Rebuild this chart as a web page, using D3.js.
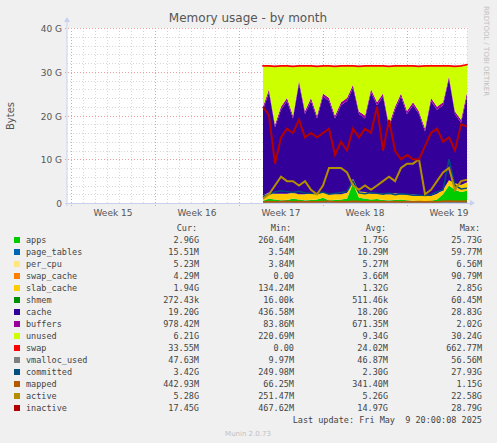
<!DOCTYPE html>
<html><head><meta charset="utf-8">
<script src="https://cdn.jsdelivr.net/npm/d3@7"></script>
<style>body{margin:0;background:#f0f0f0;}svg{display:block;}</style>
</head><body>
<svg id="chart" width="497" height="443"></svg>
<script>
// samples every half day, starting day 16 after the start of week 15
const startDay = 16, step = 0.5;
const apps = [0.5,1,0.8,0.6,0.7,1,0.8,0.6,0.7,0.8,1.2,0.6,0.7,0.8,1,4.5,1.2,1,0.8,0.9,0.7,0.6,0.7,0.8,0.6,0.5,0.5,0.4,0.5,0.8,2,4,3,2.5,2.8];
const pageTables = [0.01,0.01,0.01,0.01,0.01,0.01,0.01,0.01,0.01,0.01,0.01,0.01,0.01,0.01,0.01,0.01,0.01,0.01,0.01,0.01,0.01,0.01,0.01,0.01,0.01,0.01,0.01,0.01,0.01,0.01,0.01,0.01,0.01,0.01,0.015];
const perCpu = [0.005,0.005,0.005,0.005,0.005,0.005,0.005,0.005,0.005,0.005,0.005,0.005,0.005,0.005,0.005,0.005,0.005,0.005,0.005,0.005,0.005,0.005,0.005,0.005,0.005,0.005,0.005,0.005,0.005,0.005,0.005,0.005,0.005,0.005,0.005];
const swapCache = [0.004,0.004,0.004,0.004,0.004,0.004,0.004,0.004,0.004,0.004,0.004,0.004,0.004,0.004,0.004,0.004,0.004,0.004,0.004,0.004,0.004,0.004,0.004,0.004,0.004,0.004,0.004,0.004,0.004,0.004,0.004,0.004,0.004,0.004,0.004];
const slabCache = [1.2,1.4,1.3,1.5,1.4,1.3,1.2,1.4,1.5,1.3,1.2,1.4,1.3,1.2,1.3,1.0,1.4,1.5,1.3,1.2,1.4,1.3,1.5,1.2,1.3,1.4,1.3,1.2,1.1,1.3,1.0,1.2,1.5,1.6,1.9];
const shmem = [0.0005,0.0005,0.0005,0.0005,0.0005,0.0005,0.0005,0.0005,0.0005,0.0005,0.0005,0.0005,0.0005,0.0005,0.0005,0.0005,0.0005,0.0005,0.0005,0.0005,0.0005,0.0005,0.0005,0.0005,0.0005,0.0005,0.0005,0.0005,0.0005,0.0005,0.0005,0.0005,0.0005,0.0005,0.0003];
const cache = [19.6,22.9,15.2,19.2,21.2,17,25.3,18.3,21.1,17.2,21.9,21.3,17.3,20.3,21,20.8,17.7,16.8,23.2,20.2,22.2,15.4,19.1,22.3,18.4,20.4,18.5,14.7,21.7,19.2,19.3,23.1,15.8,14.2,19.6];
const buffers = [0.7,0.7,0.6,0.7,0.7,0.6,0.7,0.7,0.7,0.6,0.7,0.7,0.6,0.7,0.7,0.7,0.6,0.7,0.7,0.7,0.7,0.6,0.7,0.7,0.7,0.7,0.6,0.7,0.7,0.7,0.7,0.7,0.6,0.7,0.98];
const unused = [9.3,5.3,13.3,9.3,7.3,11.3,3.3,10.3,7.3,11.3,6.3,7.3,11.3,8.3,7.3,4.3,10.3,11.3,5.3,8.3,6.3,13.3,9.3,6.3,10.3,8.3,10.3,14.3,7.3,9.3,8.3,2.3,10.3,12.3,6.3];
const swap = [0.03,0.03,0.03,0.03,0.03,0.03,0.03,0.03,0.03,0.03,0.03,0.03,0.03,0.03,0.03,0.03,0.03,0.03,0.03,0.03,0.03,0.03,0.03,0.03,0.03,0.03,0.03,0.03,0.03,0.03,0.03,0.03,0.03,0.03,0.03];
const vmallocUsed = [0.047,0.047,0.047,0.047,0.047,0.047,0.047,0.047,0.047,0.047,0.047,0.047,0.047,0.047,0.047,0.047,0.047,0.047,0.047,0.047,0.047,0.047,0.047,0.047,0.047,0.047,0.047,0.047,0.047,0.047,0.047,0.047,0.047,0.047,0.047];
const committed = [1.5,2,2.5,2.8,2.6,2.4,2.7,2.3,2.2,2.1,2.5,2.0,2.2,2.4,2.6,5,2.3,2.1,2.4,2.2,2,2.3,1.9,2.1,2,1.8,1.8,1.7,1.9,2.5,3,10,4,3.2,3.4];
const mapped = [0.3,0.35,0.3,0.35,0.4,0.3,0.35,0.3,0.35,0.3,0.35,0.4,0.3,0.35,0.3,0.4,0.35,0.3,0.35,0.3,0.35,0.3,0.35,0.3,0.35,0.3,0.35,0.3,0.35,0.3,0.4,0.45,0.4,0.4,0.44];
const active = [1,2,4,6,5,5,4,5,3,2,4,8,8,8,7,4,3,4,3,4,5,6,5,8,9,9,10,2,3,5,7,8,3,5,5.3];
const inactive = [22,20,9,15,17,16,19,15,16,15,16,17,11,14,12,17,15,17,16,22,12,19,12,10,11,10,10,13,16,17,14,15,12,18,17.5];

const weekLabels = ["Week 15","Week 16","Week 17","Week 18","Week 19"];
const yTicks = [0,10,20,30,40];
const yTickLabels = ["0","10 G","20 G","30 G","40 G"];

const stackNames = ["apps","page_tables","per_cpu","swap_cache","slab_cache","shmem","cache","buffers","unused","swap"];
const stackData = [apps,pageTables,perCpu,swapCache,slabCache,shmem,cache,buffers,unused,swap];
const lineNames = ["vmalloc_used","committed","mapped","active","inactive"];
const lineData = [vmallocUsed,committed,mapped,active,inactive];
const colors = {apps:"#00cc00",page_tables:"#0066b3",per_cpu:"#ffe680",swap_cache:"#ff8000",slab_cache:"#ffcc00",shmem:"#008f00",cache:"#330099",buffers:"#990099",unused:"#ccff00",swap:"#ff0000",vmalloc_used:"#808080",committed:"#004d80",mapped:"#b35900",active:"#b38f00",inactive:"#b30000"};
const legendNames = ["apps","page_tables","per_cpu","swap_cache","slab_cache","shmem","cache","buffers","unused","swap","vmalloc_used","committed","mapped","active","inactive"];
const legendCur = ["2.96G","15.51M","5.23M","4.29M","1.94G","272.43k","19.20G","978.42M","6.21G","33.55M","47.63M","3.42G","442.93M","5.28G","17.45G"];
const legendMin = ["260.64M","3.54M","3.84M","0.00","134.24M","16.00k","436.58M","83.86M","220.69M","0.00","9.97M","249.98M","66.25M","251.47M","467.62M"];
const legendAvg = ["1.75G","10.29M","5.27M","3.66M","1.32G","511.46k","18.20G","671.35M","9.34G","24.02M","46.87M","2.30G","341.40M","5.26G","14.97G"];
const legendMax = ["25.73G","59.77M","6.56M","90.79M","2.85G","60.45M","28.83G","2.02G","30.24G","662.77M","56.56M","27.93G","1.15G","22.58G","28.79G"];

const svg = d3.select("#chart");
const L = 67, R = 467, T = 28, B = 203;
const x = d3.scaleLinear().domain([-1/3, 33]).range([L, R]);
const y = d3.scaleLinear().domain([0, 40]).range([B, T]);

svg.append("rect").attr("x", L).attr("y", T).attr("width", R - L).attr("height", B - T).attr("fill", "#fff");

// grid
const g = svg.append("g").attr("shape-rendering", "crispEdges");
d3.range(0, 33.01, 1).forEach(d => {
    const major = d % 7 === 0;
    g.append("line").attr("x1", Math.round(x(d)) + 0.5).attr("x2", Math.round(x(d)) + 0.5)
        .attr("y1", T).attr("y2", B + (major ? 3 : 0))
        .attr("stroke", major ? "#e8a0a0" : "#d8d8d8").attr("stroke-dasharray", "1,2");
});
d3.range(2, 40.1, 2).forEach(v => {
    const major = v % 10 === 0;
    g.append("line").attr("x1", L - (major ? 2 : 0)).attr("x2", R)
        .attr("y1", Math.round(y(v)) + 0.5).attr("y2", Math.round(y(v)) + 0.5)
        .attr("stroke", major ? "#e8a0a0" : "#d8d8d8").attr("stroke-dasharray", "1,2");
});

// stacked areas
const times = apps.map((d, i) => startDay + i * step);
const rows = times.map((t, i) => {
    const r = {t};
    stackNames.forEach((n, k) => r[n] = stackData[k][i]);
    return r;
});
const series = d3.stack().keys(stackNames)(rows);
const area = d3.area().x(d => x(d.data.t)).y0(d => y(d[0])).y1(d => y(d[1]));
svg.append("g").selectAll("path").data(series).join("path")
    .attr("d", area).attr("fill", d => colors[d.key])
    .attr("stroke", d => d.key === "swap" ? colors.swap : "none").attr("stroke-width", 1.5);

// lines
const line = d3.line().x(d => x(d[0])).y(d => y(d[1]));
lineNames.forEach((n, k) => {
    svg.append("path").datum(times.map((t, i) => [t, lineData[k][i]]))
        .attr("d", line).attr("fill", "none").attr("stroke", colors[n])
        .attr("stroke-width", n === "active" || n === "inactive" ? 2 : 1.5);
});

// axes
svg.append("line").attr("x1", L).attr("x2", L).attr("y1", T - 8).attr("y2", B + 3).attr("stroke", "#c8d0f0");
svg.append("line").attr("x1", L - 2).attr("x2", R + 5).attr("y1", B + 0.5).attr("y2", B + 0.5).attr("stroke", "#c8d0f0");
svg.append("path").attr("d", `M${L - 3},${T - 6}L${L},${T - 11}L${L + 3},${T - 6}Z`).attr("fill", "#c8d0f0");
svg.append("path").attr("d", `M${R + 3},${B - 3}L${R + 8},${B}L${R + 3},${B + 3}Z`).attr("fill", "#c8d0f0");

const font = "'DejaVu Sans', sans-serif";
svg.append("g").selectAll("text").data(yTicks).join("text")
    .attr("x", L - 5).attr("y", d => y(d) + 4).attr("text-anchor", "end")
    .attr("font-family", font).attr("font-size", 9).attr("fill", "#555")
    .text((d, i) => yTickLabels[i]);
svg.append("g").selectAll("text").data(weekLabels).join("text")
    .attr("x", (d, i) => x(i * 7 + 3.5)).attr("y", B + 13).attr("text-anchor", "middle")
    .attr("font-family", font).attr("font-size", 9).attr("fill", "#555").text(d => d);

svg.append("text").attr("x", 248).attr("y", 22).attr("text-anchor", "middle")
    .attr("font-family", font).attr("font-size", 12).attr("fill", "#555").text("Memory usage - by month");
svg.append("text").attr("transform", "translate(14,116) rotate(-90)").attr("text-anchor", "middle")
    .attr("font-family", font).attr("font-size", 10).attr("fill", "#555").text("Bytes");
svg.append("text").attr("transform", "translate(484,6) rotate(90)")
    .attr("font-family", font).attr("font-size", 7).attr("fill", "#c0c0c0").text("RRDTOOL / TOBI OETIKER");

// legend
const mono = "'DejaVu Sans Mono', monospace";
const lg = svg.append("g").attr("font-family", mono).attr("font-size", 8.5).attr("fill", "#444");
[["Cur:", 187], ["Min:", 281], ["Avg:", 376], ["Max:", 470]].forEach(([t, cx]) =>
    lg.append("text").attr("x", cx).attr("y", 231).attr("text-anchor", "middle").text(t));
const cols = [[legendCur, 199], [legendMin, 294], [legendAvg, 388], [legendMax, 482]];
legendNames.forEach((n, i) => {
    const yy = 243 + i * 12;
    lg.append("rect").attr("x", 14).attr("y", yy - 6).attr("width", 6).attr("height", 6).attr("fill", colors[n]);
    lg.append("text").attr("x", 26).attr("y", yy).text(n);
    cols.forEach(([arr, cx]) => lg.append("text").attr("x", cx).attr("y", yy).attr("text-anchor", "end").text(arr[i]));
});
lg.append("text").attr("x", 482).attr("y", 423).attr("text-anchor", "end").text("Last update: Fri May  9 20:00:08 2025").attr("xml:space", "preserve");
svg.append("text").attr("x", 248).attr("y", 436).attr("text-anchor", "middle")
    .attr("font-family", font).attr("font-size", 7).attr("fill", "#c0c0c0").text("Munin 2.0.73");
</script>
</body></html>
